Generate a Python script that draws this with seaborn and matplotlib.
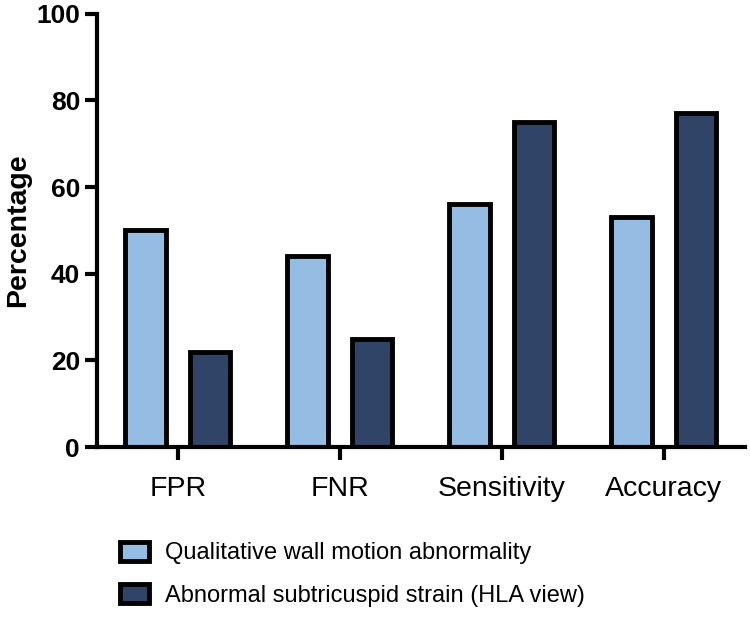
import matplotlib
matplotlib.use("Agg")
import matplotlib.pyplot as plt
import pandas as pd
import seaborn as sns

metrics = ["FPR", "FNR", "Sensitivity", "Accuracy"]
series = ["Qualitative wall motion abnormality",
          "Abnormal subtricuspid strain (HLA view)"]
qualitative = [50, 44, 56, 53]
subtricuspid = [22, 25, 75, 77]
colors = ["#95bce3", "#304467"]

df = pd.DataFrame({
    "Metric": metrics * 2,
    "Series": [series[0]] * 4 + [series[1]] * 4,
    "Percentage": qualitative + subtricuspid,
})

sns.set_style("white")
plt.rcParams["font.family"] = ["Liberation Sans", "DejaVu Sans"]
plt.rcParams["text.color"] = "black"
plt.rcParams["axes.labelcolor"] = "black"
plt.rcParams["xtick.color"] = "black"
plt.rcParams["ytick.color"] = "black"

fig = plt.figure(figsize=(7.5, 6.27), dpi=100)
ax = fig.add_axes([0.129, 0.287, 0.864, 0.691])

sns.barplot(data=df, x="Metric", y="Percentage", hue="Series", order=metrics,
            hue_order=series, palette=colors, saturation=1, gap=0.375,
            edgecolor="black", linewidth=3.5, ax=ax)

ax.set_ylim(0, 100)
ax.set_xlim(-0.5, 3.5)
ax.set_yticks([0, 20, 40, 60, 80, 100])
ax.set_xlabel("")
ax.set_ylabel("Percentage", fontsize=20.5, fontweight="bold", labelpad=4)
sns.despine(ax=ax)
for side in ["left", "bottom"]:
    ax.spines[side].set_linewidth(3)
    ax.spines[side].set_color("black")
ax.tick_params(axis="y", direction="out", length=9, width=3, labelsize=19, pad=3)
ax.tick_params(axis="x", direction="out", length=9, width=3, labelsize=20.5, pad=12)
ax.tick_params(left=True, bottom=True)
for lbl in ax.get_yticklabels():
    lbl.set_fontweight("bold")

handles, labels = ax.get_legend_handles_labels()
ax.get_legend().remove()
fig.legend(handles, labels, loc="upper left", bbox_to_anchor=(0.147, 0.151),
           frameon=False, fontsize=17, handlelength=1.25, handleheight=0.85,
           handletextpad=0.65, labelspacing=0.85, borderaxespad=0)

fig.savefig("out.png", dpi=100)
